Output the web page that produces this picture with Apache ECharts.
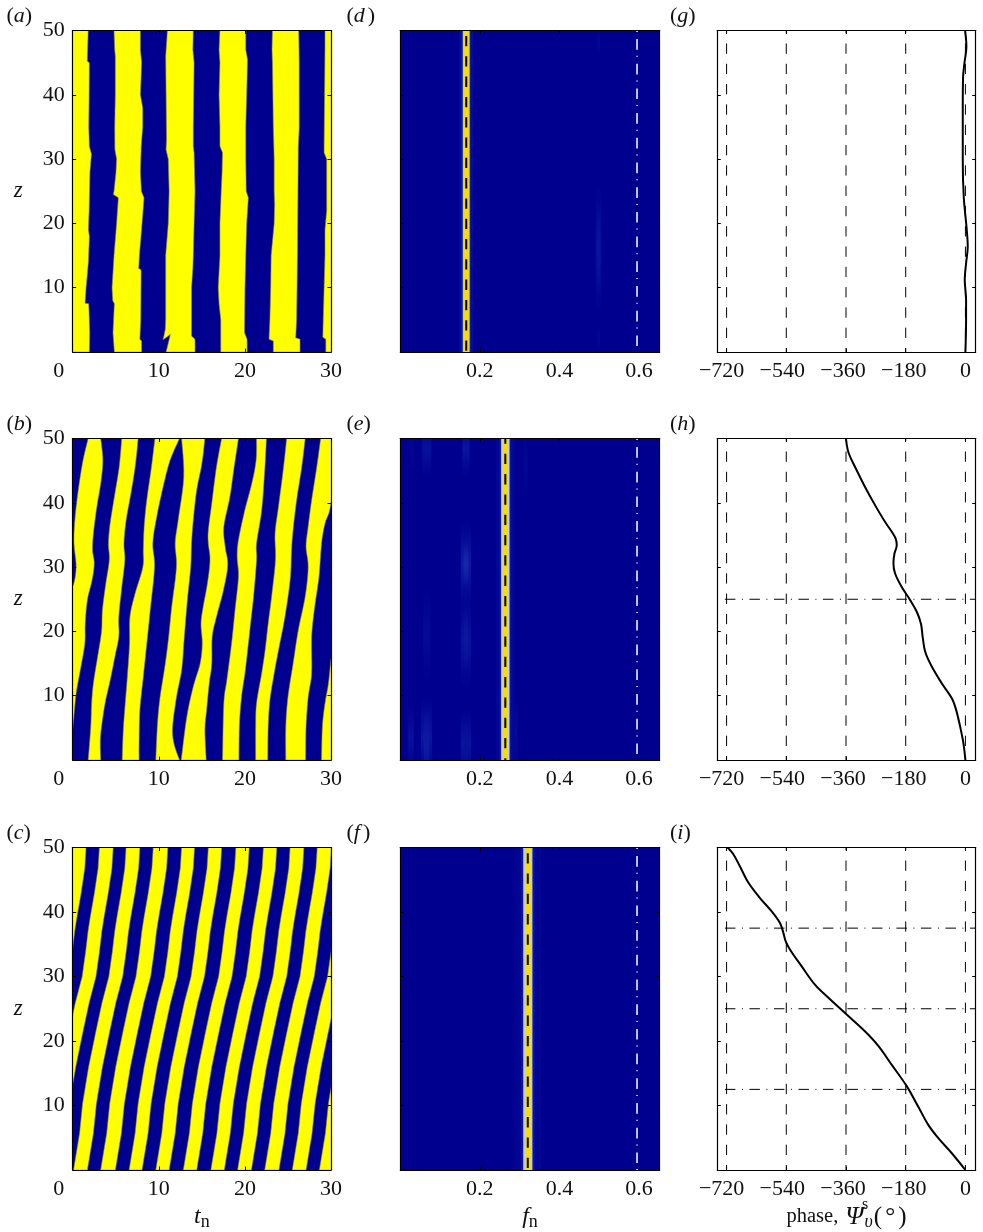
<!DOCTYPE html>
<html><head><meta charset="utf-8">
<style>html,body{margin:0;padding:0;background:#fff}#c{width:983px;height:1232px}</style>
<script src="https://cdn.jsdelivr.net/npm/echarts@6/dist/echarts.min.js"></script>
</head><body><div id="c"></div>
<script>
// ---------- tick values ----------
const tTicks=[0,10,20,30], zTicks=[0,10,20,30,40,50], fTicks=[0.2,0.4,0.6], phaseTicks=[-720,-540,-360,-180,0];
const panelLetters=['a','d','g','b','e','h','c','f','i'];
// ---------- panel (a): stripe boundaries [t,z], top to bottom ----------
const edgeL=[[-1,50],[-1,0]], edgeR=[[31,50],[31,0]];
const aB1=[[1.8,50],[1.7,46],[1.7,45.2],[1.93,45],[1.9,40],[1.86,35],[1.93,32],[2.17,30.8],[2,28],[1.9,22],[1.82,19],[1.93,18],[1.82,14],[1.55,10],[1.43,7.6],[1.86,7.5],[1.97,3],[1.93,0]];
const aB2=[[4.8,50],[4.88,47],[4.95,46],[4.95,40],[4.88,35],[4.9,31.5],[5.1,30],[5.03,28],[4.8,25],[4.72,24.5],[5.3,24],[5.1,20],[4.8,15],[4.57,10],[4.65,8],[4.84,7.5],[4.68,3],[4.84,0]];
const aB3=[[7.86,50],[7.86,47],[8,45],[7.86,40],[8.13,38],[8.13,35],[7.95,32],[7.86,28],[7.97,25],[8.28,24],[8.05,20],[7.74,15],[7.66,13],[7.94,12.8],[7.9,5],[7.8,2],[8,1.7],[8,0]];
const aB4=[[11,50],[10.8,46],[10.85,40],[10.9,33],[10.84,31.5],[11.1,30],[11.2,25],[11.1,20],[10.8,15],[10.8,13],[10.8,5],[10.75,3.5],[10.5,1.9],[11.35,2.75],[10.85,0]];
const aB5=[[14,50],[13.95,47],[14.1,45],[14,35],[14,32],[14.1,31],[14.2,25],[14.1,20],[14,15],[13.95,13],[13.8,10],[13.8,2.5],[14.2,2],[14.2,0]];
const aB6=[[17.1,50],[17,47],[17.1,45],[17,40],[17.1,35],[17.1,32],[17.4,31],[17.35,28],[17.25,25],[17.1,20],[17.1,15],[16.9,10],[17,7.5],[17.2,5],[17.2,0]];
const aB7=[[20.1,50],[20.1,47],[20.3,45.5],[20.2,40],[20.1,35],[20.1,30],[20.15,25],[20.4,24],[20.2,20],[20.1,15],[20,10],[19.95,3],[20.25,2],[20.25,0]];
const aB8=[[23.2,50],[23.15,47],[23.2,45],[23.3,35],[23.4,30],[23.4,25],[23.45,23],[23.4,20],[23.05,15],[23,10],[22.9,5],[22.8,2],[23.3,1.7],[23.3,0]];
const aB9=[[26.25,50],[26.3,45],[26.3,35],[26.2,32],[26.1,15],[26.05,10],[26,5],[25.9,2.2],[26.4,2],[26.4,0]];
const aB10=[[29.3,50],[29.3,47],[29.2,32],[29.2,31],[29.5,30],[29.5,25],[29.5,22],[29.3,19],[29.3,15],[29.1,5],[29.05,2.3],[29.4,2],[29.4,0]];
const stripesA=[[edgeL,aB1],[aB2,aB3],[aB4,aB5],[aB6,aB7],[aB8,aB9],[aB10,edgeR]];
// ---------- panel (b) ----------
const bY1L=[[1.8,50],[1.2,46.6],[0.65,42],[0.25,37.3],[0.15,33.7],[0.4,30],[0,27],[-1,26],[-1,6],[0,4.7]];
const bY1R=[[3.25,50],[3.5,46.6],[3.25,43],[2.8,39.4],[2.4,35.2],[2.3,32.6],[2.5,30.6],[2.25,28],[1.7,24.9],[1.45,21.2],[1.4,18.1],[0.95,14.5],[0.4,10.4],[0.1,6.2],[0,4.7]];
const bY2L=[[5.7,50],[5.4,45.6],[4.9,41.4],[4.35,36.8],[4.15,33.7],[4.25,31.1],[3.85,27.5],[3.45,23.3],[3.35,20],[2.9,16.1],[2.4,11.9],[2.2,8.8],[2.1,5.2],[1.8,0]];
const bY2R=[[7.6,50],[7.25,45.6],[6.75,41.4],[6.2,37.3],[5.95,33.7],[6.05,31.1],[5.7,26.9],[5.35,22.3],[5.35,19.2],[4.9,16.1],[4.35,12.4],[3.75,8.8],[3.3,4.7],[3.2,2.6],[3.25,0]];
const bY3L=[[9.55,50],[9.15,45.6],[8.6,40.4],[8.3,36.3],[8.2,32.6],[8.15,30],[7.25,25.9],[6.65,22.3],[6.6,18.1],[6.35,13],[5.9,5.2],[5.75,0]];
const bY3R=[[12.4,50],[11.3,46.6],[10.5,42.5],[9.75,37.8],[9.3,33.7],[9.5,30],[9,23.3],[8.6,18.1],[8.2,13],[7.8,7.8],[7.7,2.6],[7.7,0]];
const bY4L=[[12.65,50],[12.9,44],[12.25,37.3],[11.9,33.7],[12.05,30],[11.5,23.8],[11.1,18.6],[10.7,14.5],[10.15,9.8],[9.85,5.7],[9.65,0]];
const bY4R=[[15.35,50],[15,46.1],[14.4,42],[14,37.3],[13.8,33.7],[13.7,30],[13.35,25.4],[13.05,20.7],[12.9,18.1],[12.65,14],[12.05,9.8],[11.6,5.2],[11.75,2.6],[12.4,0]];
const bY5L=[[17.3,50],[16.7,45.6],[16.15,39.9],[15.75,35.7],[15.75,33.7],[15.95,31.1],[15.65,27.5],[15.15,23.8],[14.9,21.2],[15.05,18.1],[14.8,15],[14,11.4],[13.25,6.7],[12.65,0.5],[12.6,0]];
const bY5R=[[19.25,50],[18.75,45.6],[18.25,40.9],[17.55,36.3],[17.7,33.2],[18,30.3],[17.5,26.4],[16.7,22.3],[16.2,19.2],[16.15,15],[15.85,11.9],[15.55,7.8],[15.35,4.7],[15.5,0]];
const bY6L=[[21.35,50],[21.3,46.6],[20.8,43],[20,38.9],[19.25,34.2],[19.1,31.6],[19.25,28.5],[18.85,23.3],[18.45,18.1],[17.9,12.4],[17.55,8.8],[17.4,0]];
const bY6R=[[22.5,50],[22.3,45.1],[21.95,38.9],[21.35,33.7],[21.35,31.1],[21,25.4],[20.65,21.2],[20.4,18.1],[20,13.5],[19.6,9.8],[19.35,5.2],[19.3,0]];
const bY7L=[[24.85,50],[24.45,45.1],[23.9,39.4],[23.5,35.2],[23.55,31.1],[23.1,25.4],[22.7,21.2],[22.35,17.1],[21.95,13.5],[21.35,8.8],[21.25,5.2],[21.25,0]];
const bY7R=[[27,50],[26.6,45.6],[26,40.4],[25.55,35.2],[25.4,32.1],[25.25,28],[24.65,22.3],[23.9,17.1],[23.4,13.5],[22.9,9.3],[22.7,5.2],[22.65,0]];
const bY8L=[[28.8,50],[28.35,45.6],[27.75,40.4],[27.35,36.3],[27.1,33.2],[27.35,30],[27,25.4],[26.2,20.2],[25.6,15],[25,9.8],[24.75,5.2],[24.75,0]];
const bY8R=[[30.65,50],[30,40],[29.3,36.8],[28.9,33.7],[28.6,28.5],[28.1,23.8],[27.75,19.2],[27.75,13.5],[27.35,9.8],[27.1,5.2],[27.05,0]];
const bY9L=[[30,15.8],[29.7,11.9],[29.3,8.8],[29,5.2],[28.9,0]];
const bY9R=[[31,15.8],[31,0]];
const stripesB=[[bY1L,bY1R],[bY2L,bY2R],[bY3L,bY3R],[bY4L,bY4R],[bY5L,bY5R],[bY6L,bY6R],[bY7L,bY7R],[bY8L,bY8R],[bY9L,bY9R]];
// ---------- panel (c): boundary t read at the common z levels ----------
const cZ=[50,46.8,42.9,39.3,37,33.9,30,25.9,21.2,16,10.3,5.7,0];
const cB0=[1.55,1.40,0.97,0.5,0.23,-.04,-.45,-1.25,-2,-2.8,-3.5,-3.85,-4.55];
const cB1=[3.1,2.95,2.52,2.05,1.78,1.51,1.1,.3,-.45,-1.25,-1.95,-2.3,-3];
const cB2=[4.7,4.55,4.12,3.65,3.38,3.11,2.7,1.9,1.15,.35,-.35,-.7,-1.4];
const cB3=[6.2,6.05,5.62,5.15,4.88,4.61,4.2,3.4,2.65,1.85,1.15,.8,.1];
const cB4=[7.8,7.65,7.22,6.75,6.48,6.21,5.8,5,4.25,3.45,2.75,2.4,1.7];
const cB5=[9.35,9.2,8.77,8.3,8.03,7.76,7.35,6.55,5.8,5,4.3,3.95,3.25];
const cB6=[11.05,10.9,10.47,10,9.73,9.46,9.05,8.25,7.5,6.7,6,5.65,4.95];
const cB7=[12.65,12.5,12.07,11.6,11.33,11.06,10.65,9.85,9.1,8.3,7.6,7.25,6.55];
const cB8=[14.15,14,13.57,13.1,12.83,12.56,12.15,11.35,10.6,9.8,9.1,8.75,8.05];
const cB9=[15.75,15.6,15.17,14.7,14.43,14.16,13.75,12.95,12.2,11.4,10.7,10.35,9.65];
const cB10=[17.3,17.15,16.72,16.25,15.98,15.71,15.3,14.5,13.75,12.95,12.25,11.9,11.2];
const cB11=[18.95,18.8,18.37,17.9,17.63,17.36,16.95,16.15,15.4,14.6,13.9,13.55,12.85];
const cB12=[20.5,20.35,19.92,19.45,19.18,18.91,18.5,17.7,16.95,16.15,15.45,15.1,14.4];
const cB13=[22.15,22,21.57,21.1,20.83,20.56,20.15,19.35,18.6,17.8,17.1,16.75,16.05];
const cB14=[23.7,23.55,23.12,22.65,22.38,22.11,21.7,20.9,20.15,19.35,18.65,18.3,17.6];
const cB15=[25.25,25.1,24.67,24.2,23.93,23.66,23.25,22.45,21.7,20.9,20.2,19.85,19.15];
const cB16=[26.85,26.7,26.27,25.8,25.53,25.26,24.85,24.05,23.3,22.5,21.8,21.45,20.75];
const cB17=[28.4,28.25,27.82,27.35,27.08,26.81,26.4,25.6,24.85,24.05,23.35,23,22.3];
const cB18=[30.05,29.9,29.47,29,28.73,28.46,28.05,27.25,26.5,25.7,25,24.65,23.95];
const cB19=[31.6,31.45,31.02,30.55,30.28,30.01,29.6,28.8,28.05,27.25,26.55,26.2,25.5];
const cB20=[33.2,33.05,32.62,32.15,31.88,31.61,31.2,30.4,29.65,28.85,28.15,27.8,27.1];
const cB21=[34.75,34.6,34.17,33.7,33.43,33.16,32.75,31.95,31.2,30.4,29.7,29.35,28.65];
const cB22=[36.4,36.25,35.82,35.35,35.08,34.81,34.4,33.6,32.85,32.05,31.35,31,30.3];
const cPair=b=>b.map((t,i)=>[t,cZ[i]]);
const stripesC=[[edgeL,cPair(cB0)],[cPair(cB1),cPair(cB2)],[cPair(cB3),cPair(cB4)],[cPair(cB5),cPair(cB6)],[cPair(cB7),cPair(cB8)],[cPair(cB9),cPair(cB10)],[cPair(cB11),cPair(cB12)],[cPair(cB13),cPair(cB14)],[cPair(cB15),cPair(cB16)],[cPair(cB17),cPair(cB18)],[cPair(cB19),cPair(cB20)],[cPair(cB21),cPair(cB22)]];
// ---------- panels (d,e,f): spectrum bands [f0,f1,level], faint patches [f0,f1,z0,z1,level] ----------
const bandsD=[[.148,.183,.03],[.153,.178,.08],[.157,.1745,.55],[.1594,.172,1]];
const bandsE=[[.241,.287,.02],[.249,.279,.07],[.2535,.2745,.6],[.2572,.2708,1]];
const bandsF=[[.287,.354,.015],[.303,.338,.06],[.309,.332,.6],[.3133,.3275,1]];
const patchesD=[[.491,.505,6,26,.05],[.495,.502,9,23,.06],[.495,.502,0,4,.02],[.495,.502,46,50,.02]];
const patchesE=[[.152,.178,24,37,.08],[.159,.171,27,34,.12],[.152,.178,11,26,.05],[.159,.171,14,24,.07],[.152,.178,-3,8,.06],[.159,.171,-2,6,.05],[.156,.174,44,53,.06],
  [.052,.08,-3,10,.06],[.059,.073,-3,8,.08],[.058,.075,12,27,.03],[.055,.078,44,53,.05],[.02,.034,-2,9,.05],[.024,.034,44,52,.02],[.285,.295,-2,10,.03],[.31,.32,40,52,.02]];
const patchesF=[];
const peakF=[.1657,.264,.3204];
const cutoffF=.595;
// ---------- panels (g,h,i): phase [deg,z] ----------
const phaseG=[[-1,50],[3,47.5],[-3,44.9],[-7,42.8],[-8,37.6],[-8,29.8],[-5,24.1],[4,19],[7,16.4],[2,13.8],[-2,11.2],[2,8.1],[2,5],[0,0]];
const phaseH=[[-360,50],[-353,47.9],[-333,45.6],[-303,42.5],[-272,39.6],[-242,37],[-222,35.5],[-210,34.4],[-207,33.4],[-214,32.1],[-217,30.6],[-212,29],[-192,26.9],[-167,24.9],[-147,23.1],[-134,21.2],[-129,19.2],[-121,16.8],[-101,14.5],[-71,11.9],[-41,9.6],[-28,7.8],[-16,5.2],[-6,2.6],[0,0]];
const phaseI=[[-717,50],[-700,49],[-680,47.1],[-655,44.6],[-620,42.2],[-584,40.1],[-559,38.3],[-549,36.8],[-542,35.5],[-529,34.2],[-494,31.6],[-453,28.7],[-413,26.7],[-358,24.1],[-303,21.5],[-262,19.2],[-222,16.3],[-177,13],[-142,9.8],[-112,7],[-81,4.9],[-41,2.6],[0,0]];
const zGuidesH=[25], zGuidesI=[37.5,25,12.5], zGuidesG=[];

// ---------- layout ----------
const colL=[72.7,400.3,717.3], colW=[258.3,259.4,258.4];
const rowT=[30.5,438.5,847.5], rowH=[321.5,321.5,322.5];
const serif='"Liberation Serif","Times New Roman",serif';
const FS=22, INK='#111';
const NAVY='#00008f';
const xExt=[[0,30],[0,.652],[-748,31]];
const ramp=[[0,[0,0,143]],[.12,[20,40,170]],[.6,[190,205,240]],[1,[250,220,5]]];
function col(l,a){let i=0;while(i<ramp.length-2&&l>ramp[i+1][0])i++;const A=ramp[i],B=ramp[i+1],k=Math.min(1,(l-A[0])/(B[0]-A[0]));
  const c=A[1].map((v,j)=>Math.round(v+(B[1][j]-v)*k));return 'rgba('+c.join(',')+','+(a==null?1:a)+')';}
function spline(p){const o=[];for(let i=0;i<p.length-1;i++){const a=p[Math.max(i-1,0)],b=p[i],c=p[i+1],d=p[Math.min(i+2,p.length-1)];
  for(let s=0;s<6;s++){const u=s/6,u2=u*u,u3=u2*u;
    o.push([.5*(2*b[0]+(c[0]-a[0])*u+(2*a[0]-5*b[0]+4*c[0]-d[0])*u2+(3*b[0]-a[0]-3*c[0]+d[0])*u3),
            .5*(2*b[1]+(c[1]-a[1])*u+(2*a[1]-5*b[1]+4*c[1]-d[1])*u2+(3*b[1]-a[1]-3*c[1]+d[1])*u3)]);}}
  o.push(p[p.length-1]);return o;}
const grids=[],xAxes=[],yAxes=[],series=[],titles=[];
const LS={color:'#000',width:1.2};
const shiftRich={s0:{padding:[0,28,0,0]},s2:{padding:[0,4,0,0]},s3:{padding:[0,6,0,0]},s4:{padding:[0,8,0,0]},s5:{padding:[0,10,0,0]}};
function xFmt(c){return v=>{
  if(c===0)return v===0?'{s0|0}':String(v);
  if(c===1)return v.toFixed(1);
  if(v===0)return '0';
  const key={'-720':'s5','-540':'s4','-360':'s3','-180':'s2'}[String(v)];
  return '{'+key+'|\u2212'+Math.abs(v)+'}';};}
function stripeSeries(g,stripes,smooth){return {type:'custom',xAxisIndex:g*2,yAxisIndex:g*2,coordinateSystem:'cartesian2d',clip:true,silent:true,z:2,
  data:stripes.map((s,i)=>[i]),
  renderItem:(p,api)=>{const s=stripes[p.dataIndex];const L=smooth?spline(s[0]):s[0],R=smooth?spline(s[1]):s[1];
    const pts=L.concat(R.slice().reverse()).map(q=>api.coord(q));
    return {type:'polygon',shape:{points:pts},style:{fill:'#ffff00',stroke:'rgba(140,140,70,.55)',lineWidth:1}};}};}
function bandSeries(g,bands){return {type:'custom',xAxisIndex:g*2,yAxisIndex:g*2,clip:true,silent:true,z:2,data:bands,
  renderItem:(p,api)=>{const a=api.coord([api.value(0),50]),b=api.coord([api.value(1),0]);
    return {type:'rect',shape:{x:a[0],y:a[1],width:b[0]-a[0],height:b[1]-a[1]},style:{fill:col(api.value(2))}};}};}
function patchSeries(g,patches){return {type:'custom',xAxisIndex:g*2,yAxisIndex:g*2,clip:true,silent:true,z:1,data:patches,
  renderItem:(p,api)=>{const a=api.coord([api.value(0),api.value(3)]),b=api.coord([api.value(1),api.value(2)]),l=api.value(4);
    return {type:'rect',shape:{x:a[0],y:a[1],width:b[0]-a[0],height:b[1]-a[1]},style:{fill:new echarts.graphic.LinearGradient(0,0,0,1,[{offset:0,color:col(l,0)},{offset:.5,color:col(l,1)},{offset:1,color:col(l,0)}])}};}};}
function lineS(g,data,style,extra){return Object.assign({type:'line',xAxisIndex:g*2,yAxisIndex:g*2,data:data,showSymbol:false,symbol:'none',silent:true,clip:true,lineStyle:style,z:3,animation:false},extra||{});}

panelLetters.forEach((L,g)=>{
  const r=Math.floor(g/3),c=g%3;
  grids.push({left:colL[c],top:rowT[r],width:colW[c],height:rowH[r],show:true,borderWidth:0,backgroundColor:c===2?'#fff':NAVY});
  const vals=c===0?tTicks:c===1?fTicks:phaseTicks;
  const bottomNames=[
    {name:'{i|t}{n|n}'},{name:'{i|f}{n|n}'},{name:'{r|phase,}{p|\u03A8}{u|\u03C5}{g|(}{h|\u00B0}{g|)}'}];
  const nameCfg=r===2?Object.assign({nameLocation:'middle',nameGap:33,
    nameTextStyle:{fontFamily:serif,fontSize:FS,color:INK,rich:{
      i:{fontFamily:serif,fontStyle:'italic',fontSize:24,color:INK,lineHeight:28},
      n:{fontFamily:serif,fontSize:18,color:INK,lineHeight:28,verticalAlign:'bottom',padding:[8,0,0,0]},
      r:{fontFamily:serif,fontSize:20.5,color:INK,lineHeight:28,padding:[0,7,0,0]},
      p:{fontFamily:serif,fontStyle:'italic',fontSize:26,color:INK,lineHeight:28},
      u:{fontFamily:serif,fontStyle:'italic',fontSize:18,color:INK,lineHeight:28,verticalAlign:'bottom',padding:[8,1,0,1]},
      g:{fontFamily:serif,fontSize:25,color:INK,lineHeight:28},
      h:{fontFamily:serif,fontSize:25,color:INK,lineHeight:28,padding:[0,3,0,3]}}}},bottomNames[c]):{};
  xAxes.push(Object.assign({gridIndex:g,type:'value',position:'bottom',min:xExt[c][0],max:xExt[c][1],z:10,
    axisLine:{show:true,onZero:false,lineStyle:LS},splitLine:{show:false},
    axisTick:{show:true,inside:true,length:3.5,lineStyle:{color:'#000',width:1},customValues:vals},
    axisLabel:{show:true,customValues:vals,margin:8,fontFamily:serif,fontSize:FS,color:INK,hideOverlap:false,formatter:xFmt(c),
      rich:Object.fromEntries(Object.entries(shiftRich).map(([k,v])=>[k,Object.assign({fontFamily:serif,fontSize:FS,color:INK},v)]))}},nameCfg));
  xAxes.push({gridIndex:g,type:'value',position:'top',min:xExt[c][0],max:xExt[c][1],z:10,
    axisLine:{show:true,onZero:false,lineStyle:LS},splitLine:{show:false},
    axisTick:{show:true,inside:true,length:3.5,lineStyle:{color:'#000',width:1},customValues:vals},axisLabel:{show:false}});
  yAxes.push(Object.assign({gridIndex:g,type:'value',position:'left',min:0,max:50,z:10,
    axisLine:{show:true,onZero:false,lineStyle:LS},splitLine:{show:false},
    axisTick:{show:true,inside:true,length:3.5,lineStyle:{color:'#000',width:1},customValues:zTicks},
    axisLabel:{show:c===0,customValues:zTicks.slice(1),margin:8,fontFamily:serif,fontSize:FS,color:INK}},
    c===0?{name:'z',nameLocation:'middle',nameRotate:0,nameGap:50,nameTextStyle:{fontFamily:serif,fontStyle:'italic',fontSize:23,color:INK,padding:[6,0,0,0]}}:{}));
  yAxes.push({gridIndex:g,type:'value',position:'right',min:0,max:50,z:10,
    axisLine:{show:true,onZero:false,lineStyle:LS},splitLine:{show:false},
    axisTick:{show:true,inside:true,length:3.5,lineStyle:{color:'#000',width:1},customValues:zTicks},axisLabel:{show:false}});
  // panel letter
  const spaced=(L==='d'||L==='f');
  const base={fontFamily:serif,fontSize:FS,color:INK,fontWeight:'normal'};
  titles.push({text:'{p|(}{i|'+L+'}{'+(spaced?'q':'p')+'|)}',left:[6.5,346.5,670][c],top:rowT[r]-25,padding:0,
    textStyle:{fontWeight:'normal',rich:{p:base,q:Object.assign({},base,{padding:[0,0,0,3]}),i:Object.assign({},base,{fontStyle:'italic'})}}});
  // marks
  if(c===0){
    const st=[stripesA,stripesB,stripesC][r];
    series.push(stripeSeries(g,st,r===1));
  }else if(c===1){
    series.push(patchSeries(g,[patchesD,patchesE,patchesF][r]));
    series.push(bandSeries(g,[bandsD,bandsE,bandsF][r]));
    const f=peakF[r];
    series.push(lineS(g,[[f,50],[f,0]],{color:'#000',width:2,type:[10.3,10],dashOffset:[14.8,5,14.6][r]}));
    series.push(lineS(g,[[cutoffF,50],[cutoffF,0]],{color:'#fff',width:1.5,type:[10.7,6,1,7],dashOffset:16.2}));
  }else{
    phaseTicks.forEach(v=>series.push(lineS(g,[[v,50],[v,0]],{color:'#000',width:1,type:[10.3,10],dashOffset:7.3},{z:2})));
    [zGuidesG,zGuidesH,zGuidesI][r].forEach(z=>series.push(lineS(g,[[-725,z],[31,z]],{color:'#000',width:1,type:[10.5,6.5,1,6.5]},{z:2})));
    series.push(lineS(g,[phaseG,phaseH,phaseI][r],{color:'#000',width:2},{smooth:.35,z:4}));
  }
});
// superscript of the phase symbol
titles.push({text:'s',left:862,top:1197,padding:0,textStyle:{fontFamily:serif,fontSize:16,fontWeight:'normal',color:INK}});

const chart=echarts.init(document.getElementById('c'),null,{renderer:'canvas',width:983,height:1232});
chart.setOption({animation:false,backgroundColor:'#fff',title:titles,grid:grids,xAxis:xAxes,yAxis:yAxes,series:series});
</script></body></html>
